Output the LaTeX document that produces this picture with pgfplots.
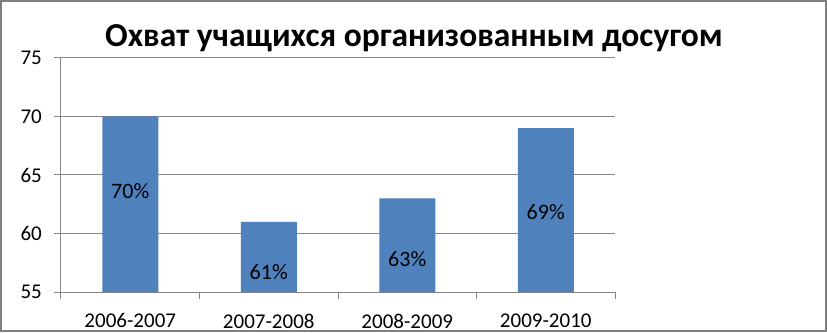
\documentclass[border=0pt]{standalone}
\usepackage{pgfplots}
\pgfplotsset{compat=1.18}
\usepackage{fontspec}
\setmainfont{Carlito}
\definecolor{gridgray}{RGB}{134,134,134}
\definecolor{framegray}{RGB}{128,128,128}
\definecolor{barblue}{RGB}{79,129,189}
\begin{document}
\begin{tikzpicture}[x=1pt,y=1pt]
\useasboundingbox (0,0) rectangle (827,332);
\fill[white] (0,0) rectangle (827,332);
\begin{axis}[at={(61pt,40pt)}, anchor=south west, scale only axis,
  width=554pt, height=234pt,
  ybar, bar width=56pt,
  xmin=-0.5, xmax=3.5, ymin=55, ymax=75,
  ytick={55,60,65,70,75},
  xtick={0,1,2,3}, xticklabels={2006-2007,2007-2008,2008-2009,2009-2010},
  minor xtick={-0.5,0.5,1.5,2.5,3.5},
  axis x line*=bottom, axis y line*=left,
  axis line style={gridgray, line width=1pt, -},
  ymajorgrids, grid style={gridgray, line width=1pt},
  tick align=outside, major tick length=7pt, minor tick length=7pt,
  major x tick style={draw=none},
  minor x tick style={gridgray, line width=1pt},
  ytick style={gridgray, line width=1pt},
  ticklabel style={font=\fontsize{21}{24}\selectfont},
  xticklabel style={anchor=north, inner sep=0pt, yshift=-14.5pt},
  yticklabel style={anchor=east, inner sep=0pt, xshift=-12pt},
  /pgf/number format/assume math mode=true,
  clip=true,
]
\addplot[fill=barblue, draw=none] coordinates {(0,70) (1,61) (2,63) (3,69)};
\node[font=\fontsize{22}{26}\selectfont] at (axis cs:0,63.63) {70\%};
\node[font=\fontsize{22}{26}\selectfont] at (axis cs:1,56.71) {61\%};
\node[font=\fontsize{22}{26}\selectfont] at (axis cs:2,57.82) {63\%};
\node[font=\fontsize{22}{26}\selectfont] at (axis cs:3,61.84) {69\%};
\end{axis}
\node[font=\fontsize{33.5}{40}\selectfont\bfseries, anchor=base, inner sep=0pt] at (414,285) {Охват учащихся организованным досугом};
\draw[framegray, line width=2pt] (1,1) rectangle (826,331);
\end{tikzpicture}
\end{document}
